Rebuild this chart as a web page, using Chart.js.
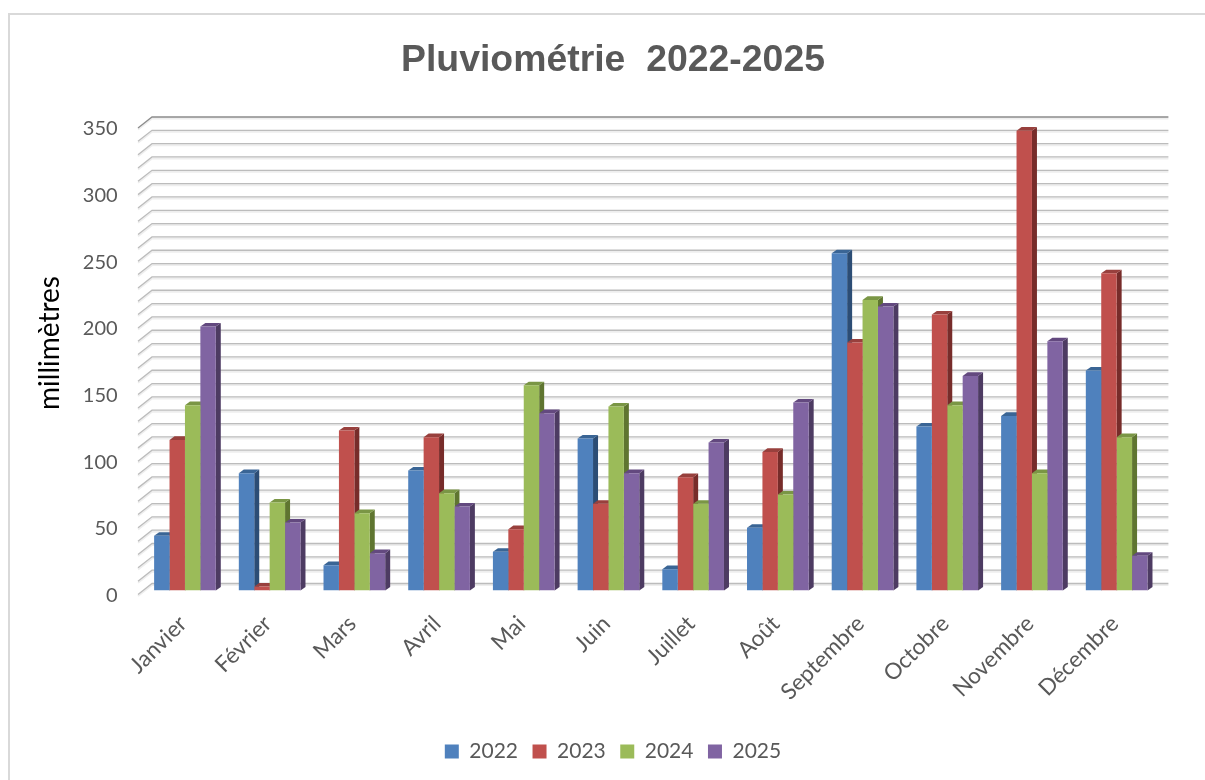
<!DOCTYPE html>
<html><head><meta charset="utf-8">
<style>
html,body{margin:0;padding:0;background:#fff;width:1205px;height:780px;overflow:hidden}
#box{position:absolute;left:8px;top:13px;width:1210px;height:790px;border:2px solid #d9d9d9;box-sizing:border-box;background:#fff}
canvas{display:block}
</style>
<script src="https://cdn.jsdelivr.net/npm/chart.js@4"></script>
</head><body>
<div id="box"><canvas id="c" width="1206" height="786"></canvas></div>
<script>
const categories=['Janvier','Février','Mars','Avril','Mai','Juin','Juillet','Août','Septembre','Octobre','Novembre','Décembre'];
const v2022=[41,88,19,90,29,114,16,47,253,123,131,165];
const v2023=[113,3,120,115,46,65,85,104,186,207,345,238];
const v2024=[139,66,58,73,154,138,65,72,218,139,88,115];
const v2025=[198,51,28,63,133,88,111,141,213,161,187,26];
const seriesNames=['2022','2023','2024','2025'];
const frontColors=['#4F81BD','#C0504D','#9BBB59','#8064A2'];
const topColors=['#3A6595','#98403D','#7A9645','#63497F'];
const sideColors=['#2C4D75','#772C2A','#5F7530','#4D3B62'];
const gridStep=10, labelStep=50, yMax=350;
const yTitle='millimètres';
const AXIS_LEFT=132.6, AXIS_RIGHT=57;

const depthBar={dx:5,dy:3.6};
const wall={front:{dx:-4.6,dy:4},back:{dx:9.4,dy:-7}};

const plugin3d={
 id:'plugin3d',
 beforeDatasetsDraw(chart){
  const {ctx,scales:{y},chartArea:a}=chart;
  ctx.save();
  for(let v=0;v<=yMax;v+=gridStep){
   const p=y.getPixelForValue(v);
   const dark=v===yMax;
   const xf=a.left+wall.front.dx,yf=p+wall.front.dy,xb=a.left+wall.back.dx,yb=p+wall.back.dy,xr=a.right+wall.back.dx;
   ctx.strokeStyle='#eeeeee';ctx.lineWidth=2;
   ctx.beginPath();ctx.moveTo(xf,yf+1.5);ctx.lineTo(xb,yb+1.5);ctx.lineTo(xr,yb+1.5);ctx.stroke();
   ctx.strokeStyle=dark?'#8c8c8c':'#bcbcbc';ctx.lineWidth=1.3;
   ctx.beginPath();ctx.moveTo(xf,yf);ctx.lineTo(xb,yb);ctx.lineTo(xr,yb);ctx.stroke();
  }
  chart.getSortedVisibleDatasetMetas().forEach(meta=>{
   const i=meta.index;
   meta.data.forEach(b=>{
    const l=b.x-b.width/2,r=b.x+b.width/2,t=b.y,bm=b.base,{dx,dy}=depthBar;
    ctx.fillStyle=sideColors[i];
    ctx.beginPath();ctx.moveTo(r,t);ctx.lineTo(r+dx,t-dy);ctx.lineTo(r+dx,bm-dy);ctx.lineTo(r,bm);ctx.closePath();ctx.fill();
    ctx.fillStyle=topColors[i];
    ctx.beginPath();ctx.moveTo(l,t);ctx.lineTo(l+dx,t-dy);ctx.lineTo(r+dx,t-dy);ctx.lineTo(r,t);ctx.closePath();ctx.fill();
   });
  });
  ctx.restore();
 },
 afterDraw(chart){
  const {ctx}=chart;
  ctx.save();
  ctx.font='28px Lato';ctx.fillStyle='#000';ctx.textAlign='center';ctx.textBaseline='middle';
  ctx.translate(40,328);ctx.rotate(-Math.PI/2);ctx.fillText(yTitle,0,0);
  ctx.restore();
 }
};

const allValues=[v2022,v2023,v2024,v2025];
new Chart(document.getElementById('c'),{
 type:'bar',
 data:{labels:categories,datasets:seriesNames.map((n,i)=>({
   label:n,data:allValues[i],backgroundColor:frontColors[i],borderWidth:0,
   barPercentage:1,categoryPercentage:0.728
 }))},
 plugins:[plugin3d],
 options:{
  responsive:false,animation:false,
  layout:{padding:{left:0,right:0,top:0,bottom:29}},
  plugins:{
   title:{display:true,text:'Pluviométrie  2022-2025',color:'#595959',font:{family:'Liberation Sans',size:37.4,weight:'bold'},padding:{top:23,bottom:41.1}},
   legend:{position:'bottom',labels:{color:'#595959',font:{family:'Lato',size:21},boxWidth:14,boxHeight:14,padding:14.5}},
   tooltip:{enabled:false}
  },
  scales:{
   x:{
    grid:{display:false},border:{display:false},
    ticks:{color:'#595959',font:{family:'Lato',size:22.5},maxRotation:45,minRotation:45,autoSkip:false,padding:12,labelOffset:-2},
    afterFit(s){s.height=136}
   },
   y:{
    min:0,max:yMax,
    grid:{display:false},border:{display:false},
    ticks:{stepSize:gridStep,autoSkip:false,color:'#595959',font:{family:'Lato',size:20},labelOffset:5,padding:17,
      callback:v=>v%labelStep===0?String(v):''},
    afterFit(s){s.width=AXIS_LEFT}
   },
   yRightMargin:{
    position:'right',display:true,
    grid:{display:false},border:{display:false},ticks:{display:false},
    afterFit(s){s.width=AXIS_RIGHT}
   }
  }
 }
});
</script>
</body></html>
